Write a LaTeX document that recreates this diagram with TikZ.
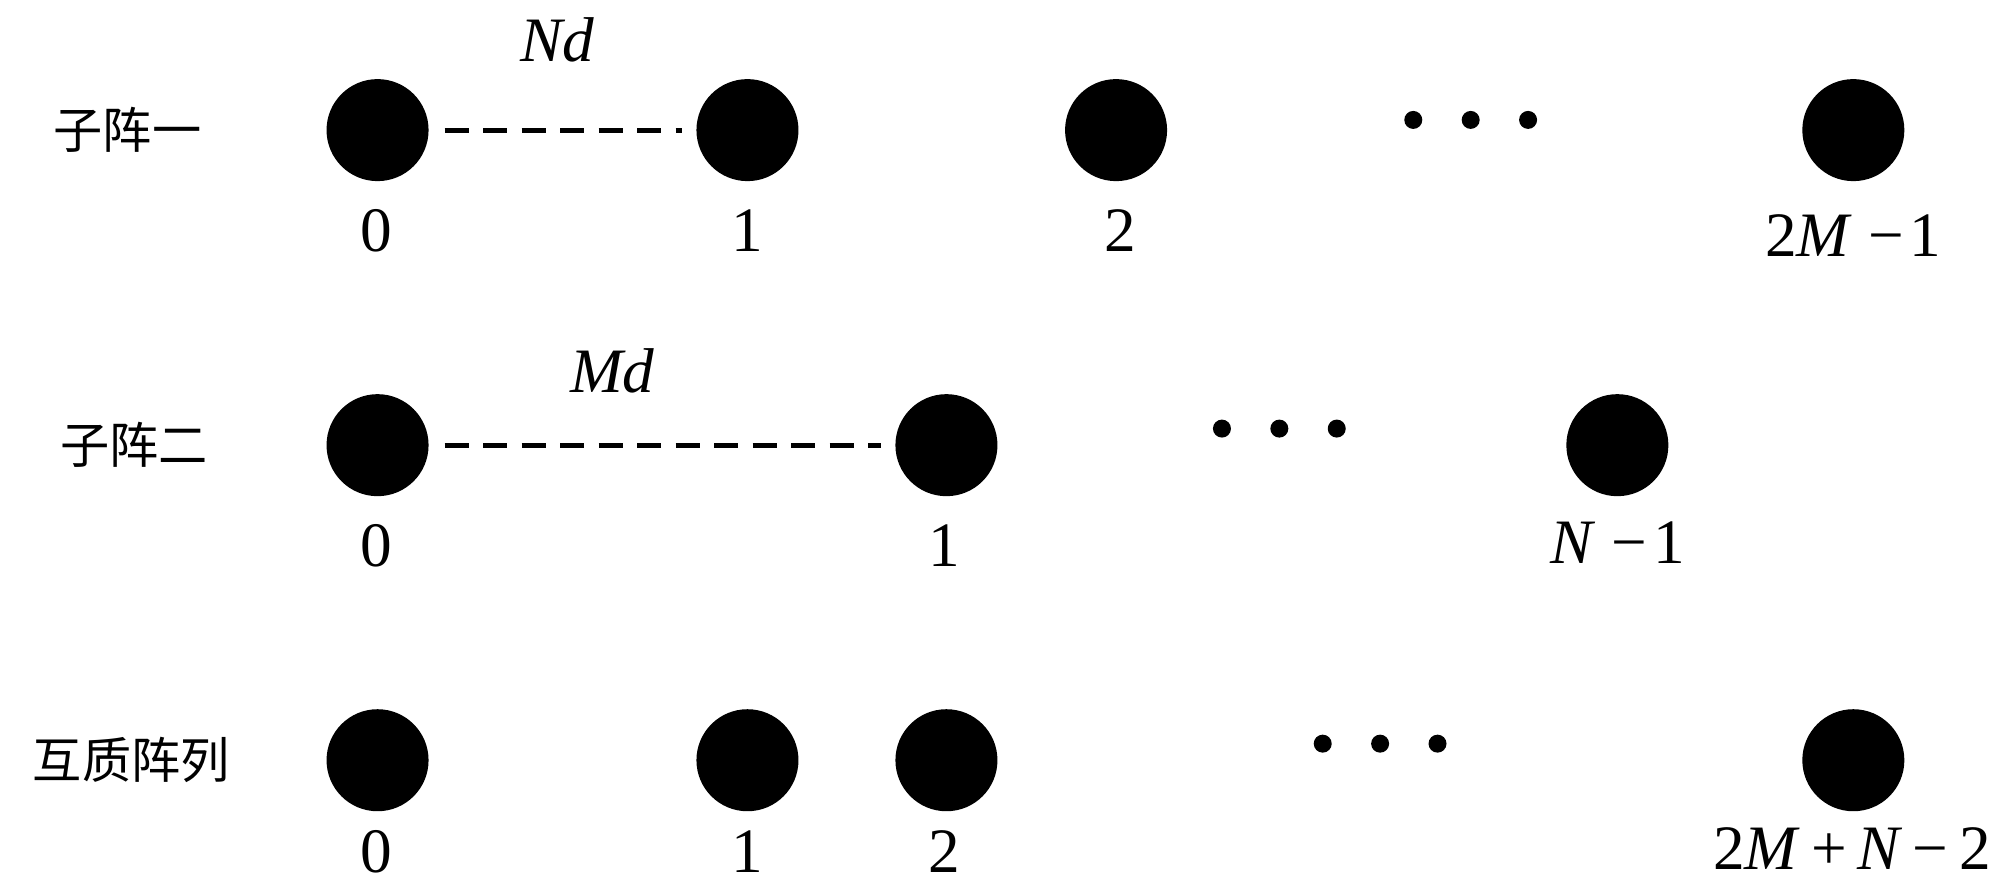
\documentclass[tikz,border=0pt]{standalone}
\usepackage{fontspec}
\setmainfont{Liberation Serif}
\newfontfamily\cjk{Noto Sans CJK SC}
\begin{document}
\begin{tikzpicture}[x=0.012755cm,y=-0.012755cm,
  elem/.style={circle,fill=black,inner sep=0pt,minimum size=1.0204cm},
  dotel/.style={circle,fill=black,inner sep=0pt,minimum size=0.18cm},
  lab/.style={font=\fontsize{18}{20}\selectfont,anchor=base,inner sep=0pt},
  cn/.style={font=\cjk\fontsize{14}{16}\selectfont,inner sep=0pt},
  spacing/.style={line width=0.05cm,dash pattern=on 0.24cm off 0.145cm,shorten <=0.153cm,shorten >=0.14cm}]
\useasboundingbox (0,0) rectangle (1568,696);
% row 1
\node[cn] (t1) at (100,102) {子阵一};
\node[elem] (a0) at (296,102) {};
\node[elem] (a1) at (586,102) {};
\node[elem] (a2) at (875,102) {};
\node[elem] (a3) at (1453,102) {};
\node[dotel] (ad1) at (1108,94) {};
\node[dotel] (ad2) at (1153,94) {};
\node[dotel] (ad3) at (1198,94) {};
\draw[spacing] (a0) -- (a1);
\node[lab] (nd) at (437,48) {\textit{Nd}};
\node[lab] (la0) at (295,197) {0};
\node[lab] (la1) at (586,197) {1};
\node[lab] (la2) at (878,197) {2};
\node[lab] (la3) at (1453,201) {2\textit{M}\hspace{0.25em}−\hspace{0.1em}1};
% row 2
\node[cn] (t2) at (105,349) {子阵二};
\node[elem] (b0) at (296,349) {};
\node[elem] (b1) at (742,349) {};
\node[elem] (b2) at (1268,349) {};
\node[dotel] (bd1) at (958,336) {};
\node[dotel] (bd2) at (1003,336) {};
\node[dotel] (bd3) at (1048,336) {};
\draw[spacing] (b0) -- (b1);
\node[lab] (md) at (480,308) {\textit{Md}};
\node[lab] (lb0) at (295,444) {0};
\node[lab] (lb1) at (740,444) {1};
\node[lab] (lb2) at (1268,442) {\textit{N}\hspace{0.25em}−\hspace{0.1em}1};
% row 3
\node[cn] (t3) at (103,596) {互质阵列};
\node[elem] (c0) at (296,596) {};
\node[elem] (c1) at (586,596) {};
\node[elem] (c2) at (742,596) {};
\node[elem] (c3) at (1453,596) {};
\node[dotel] (cd1) at (1037,583) {};
\node[dotel] (cd2) at (1082,583) {};
\node[dotel] (cd3) at (1127,583) {};
\node[lab] (lc0) at (295,684) {0};
\node[lab] (lc1) at (586,684) {1};
\node[lab] (lc2) at (740,684) {2};
\node[lab] (lc3) at (1452,682) {2\textit{M}\,+\,\textit{N}\,−\,2};
\end{tikzpicture}
\end{document}
